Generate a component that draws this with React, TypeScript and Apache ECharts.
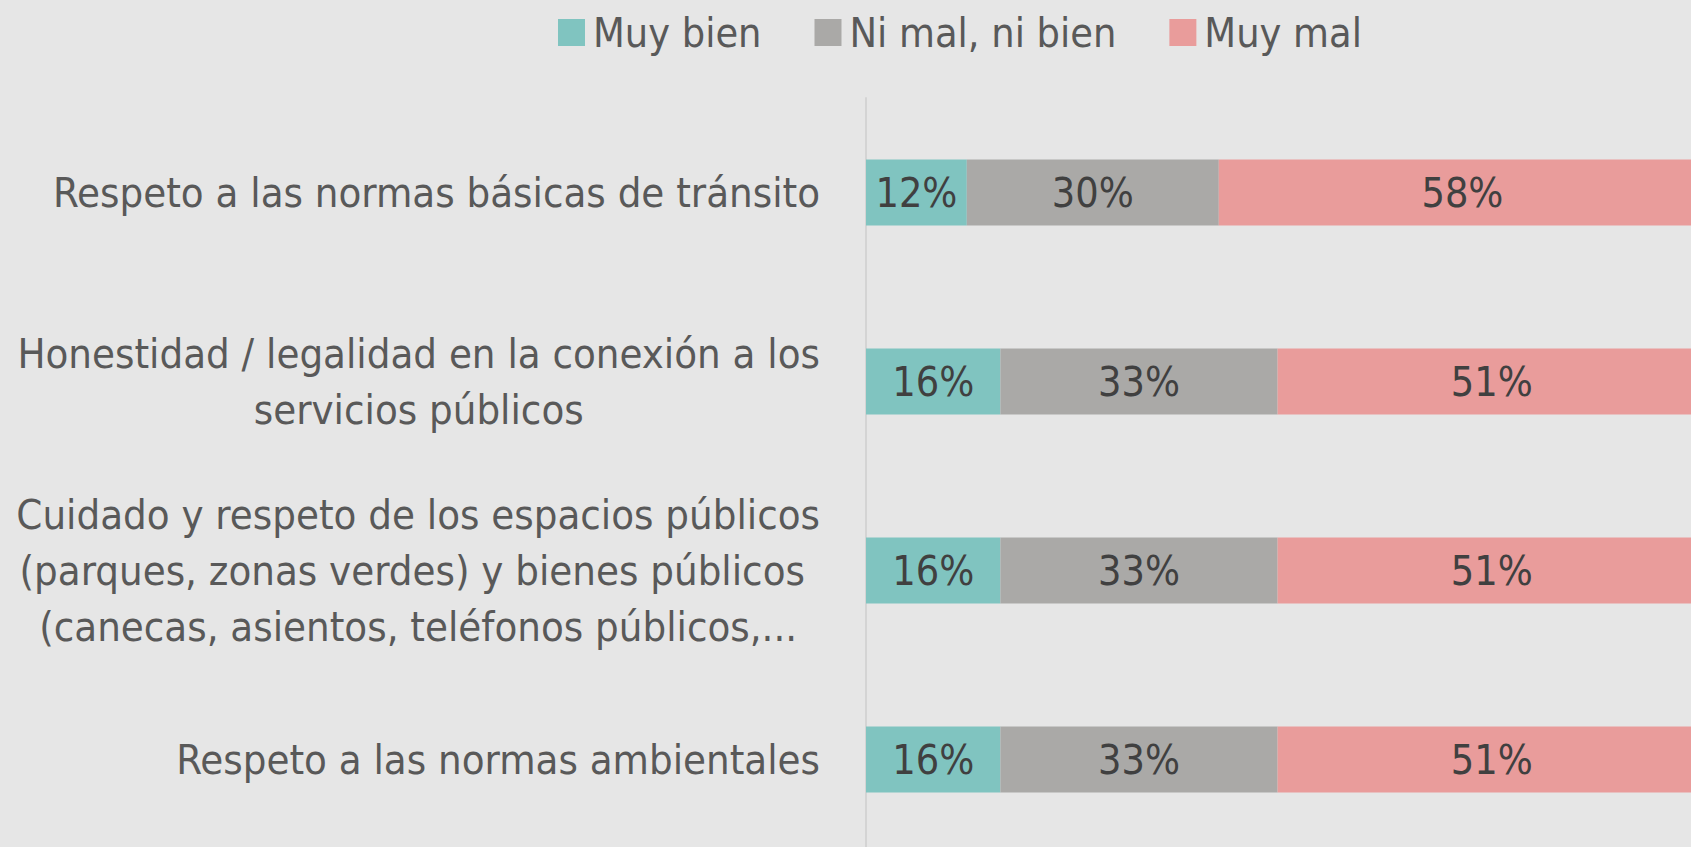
import React, { useEffect, useRef } from "react";
import * as echarts from "echarts";

const categories = [
  "Respeto a las normas básicas de tránsito",
  "Honestidad / legalidad en la conexión a los\nservicios públicos",
  "Cuidado y respeto de los espacios públicos\n(parques, zonas verdes) y bienes públicos \n(canecas, asientos, teléfonos públicos,...",
  "Respeto a las normas ambientales",
];
const seriesNames = ["Muy bien", "Ni mal, ni bien", "Muy mal"];
const muyBien = [12, 16, 16, 16];
const niMal = [30, 33, 33, 33];
const muyMal = [58, 51, 51, 51];
const colors = ["#80c4c0", "#aaa9a7", "#e99c9b"];

const FONT = '"Liberation Sans Narrow", "DejaVu Sans Condensed", Roboto, sans-serif';

export default function App() {
  const ref = useRef<HTMLDivElement>(null);
  useEffect(() => {
    if (!ref.current) return;
    document.body.style.margin = "0";
    const chart = echarts.init(ref.current, null, { renderer: "svg" });
    const values = [muyBien, niMal, muyMal];
    chart.setOption({
      animation: false,
      backgroundColor: "#e6e6e6",
      textStyle: { fontFamily: FONT },
      legend: {
        top: 7,
        left: 553,
        itemWidth: 27,
        itemHeight: 27,
        itemGap: 53,
        icon: "rect",
        textStyle: { fontSize: 41, color: "#595959", fontFamily: FONT, padding: [0, 0, 0, 3] },
        data: seriesNames,
      },
      grid: {
        left: 866,
        top: 98,
        width: 840,
        height: 756,
        containLabel: false,
        outerBoundsMode: "none",
      },
      xAxis: {
        type: "value",
        min: 0,
        max: 100,
        show: false,
      },
      yAxis: {
        type: "category",
        inverse: true,
        data: categories,
        axisLine: { show: true, lineStyle: { color: "#d4d4d4", width: 2 } },
        axisTick: { show: false },
        splitLine: { show: false },
        axisLabel: {
          margin: 46,
          fontSize: 41.5,
          color: "#595959",
          fontFamily: FONT,
          lineHeight: 56,
          formatter: (v: string) =>
            v
              .split("\n")
              .map((l) => `{c|${l}}`)
              .join("\n"),
          rich: {
            c: { align: "center", fontSize: 41.5, color: "#595959", fontFamily: FONT, lineHeight: 56 },
          },
        },
      },
      series: seriesNames.map((name, i) => ({
        name,
        type: "bar",
        stack: "total",
        barWidth: "35%",
        itemStyle: { color: colors[i] },
        label: {
          show: true,
          position: "inside",
          formatter: "{c}%",
          fontSize: 41,
          color: "#404040",
          fontFamily: FONT,
        },
        data: values[i],
      })),
    });
    return () => chart.dispose();
  }, []);
  return (
    <div
      ref={ref}
      style={{ width: 1691, height: 847, position: "fixed", left: 0, top: 0 }}
    />
  );
}
